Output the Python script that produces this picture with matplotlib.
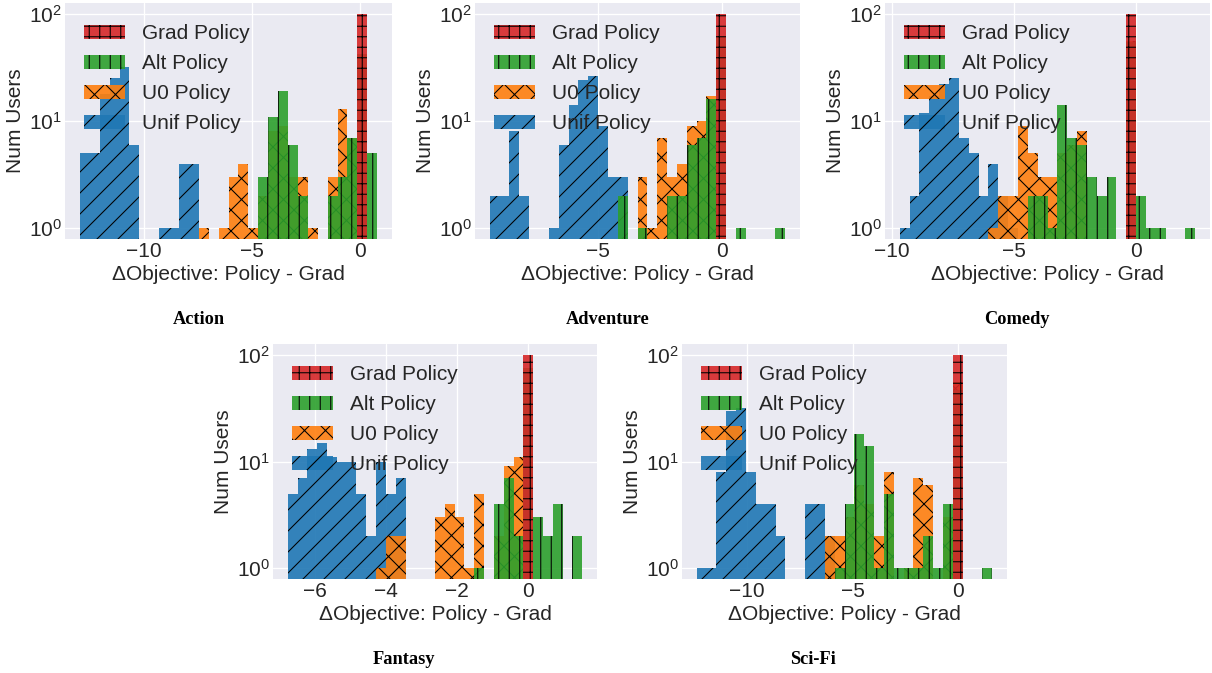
import numpy as np
import matplotlib
matplotlib.use("Agg")
import matplotlib.pyplot as plt

# ---- data: per genre, histogram range and counts per bin (30 bins) ----
genres = ["Action", "Adventure", "Comedy", "Fantasy", "Sci-Fi"]
policies = ["Unif Policy", "U0 Policy", "Alt Policy", "Grad Policy"]

bin_lo = [-12.97, -9.40, -9.67, -6.76, -12.38]
bin_hi = [0.79, 2.58, 2.42, 1.52, 1.60]

action_unif = [5, 5, 18, 25, 32, 6, 0, 0, 1, 1, 4, 4, 0, 0, 0, 0, 0, 0, 0, 0, 0, 0, 0, 0, 0, 0, 0, 0, 0, 0]
action_u0 = [0, 0, 0, 0, 0, 0, 0, 0, 0, 0, 0, 0, 1, 0, 1, 3, 4, 1, 2, 8, 9, 3, 3, 1, 0, 3, 13, 7, 41, 0]
action_alt = [0, 0, 0, 0, 0, 0, 0, 0, 0, 0, 0, 0, 0, 0, 0, 0, 0, 0, 3, 11, 19, 6, 2, 0, 0, 2, 3, 7, 42, 5]
action_grad = [0] * 28 + [100, 0]

adventure_unif = [2, 2, 8, 2, 0, 0, 1, 6, 14, 24, 26, 9, 3, 3, 0, 0, 0, 0, 0, 0, 0, 0, 0, 0, 0, 0, 0, 0, 0, 0]
adventure_u0 = [0, 0, 0, 0, 0, 0, 0, 0, 0, 0, 0, 0, 0, 0, 0, 3, 1, 7, 3, 4, 9, 10, 17, 46, 0, 0, 0, 0, 0, 0]
adventure_alt = [0, 0, 0, 0, 0, 0, 0, 0, 0, 0, 0, 0, 0, 2, 0, 1, 0, 0, 2, 2, 6, 7, 16, 62, 0, 1, 0, 0, 0, 1]
adventure_grad = [0] * 23 + [100] + [0] * 6

comedy_unif = [1, 2, 12, 17, 22, 25, 7, 5, 2, 4, 2, 1, 0, 0, 0, 0, 0, 0, 0, 0, 0, 0, 0, 0, 0, 0, 0, 0, 0, 0]
comedy_u0 = [0, 0, 0, 0, 0, 0, 0, 0, 0, 1, 2, 2, 9, 5, 3, 3, 5, 6, 8, 0, 0, 0, 0, 56, 0, 0, 0, 0, 0, 0]
comedy_alt = [0, 0, 0, 0, 0, 0, 0, 0, 0, 0, 0, 0, 0, 2, 2, 1, 14, 7, 6, 3, 2, 3, 0, 55, 2, 1, 1, 0, 0, 1]
comedy_grad = [0] * 23 + [100] + [0] * 6

fantasy_unif = [5, 7, 13, 15, 11, 10, 10, 5, 2, 10, 5, 7, 0, 0, 0, 0, 0, 0, 0, 0, 0, 0, 0, 0, 0, 0, 0, 0, 0, 0]
fantasy_u0 = [0, 0, 0, 0, 0, 0, 0, 0, 0, 1, 2, 2, 0, 0, 0, 3, 4, 3, 1, 5, 0, 2, 9, 11, 57, 0, 0, 0, 0, 0]
fantasy_alt = [0, 0, 0, 0, 0, 0, 0, 0, 0, 0, 0, 0, 0, 0, 0, 0, 0, 0, 0, 1, 0, 4, 7, 2, 75, 3, 2, 4, 0, 2]
fantasy_grad = [0] * 24 + [100] + [0] * 5

scifi_unif = [1, 1, 8, 30, 32, 8, 4, 4, 2, 0, 0, 4, 4, 2, 0, 0, 0, 0, 0, 0, 0, 0, 0, 0, 0, 0, 0, 0, 0, 0]
scifi_u0 = [0, 0, 0, 0, 0, 0, 0, 0, 0, 0, 0, 0, 0, 2, 2, 3, 6, 4, 2, 8, 0, 1, 7, 6, 0, 3, 56, 0, 0, 0]
scifi_alt = [0, 0, 0, 0, 0, 0, 0, 0, 0, 0, 0, 0, 0, 0, 1, 4, 18, 14, 1, 5, 1, 1, 1, 2, 1, 4, 47, 0, 0, 1]
scifi_grad = [0] * 26 + [100] + [0] * 3

counts = [
    [action_unif, action_u0, action_alt, action_grad],
    [adventure_unif, adventure_u0, adventure_alt, adventure_grad],
    [comedy_unif, comedy_u0, comedy_alt, comedy_grad],
    [fantasy_unif, fantasy_u0, fantasy_alt, fantasy_grad],
    [scifi_unif, scifi_u0, scifi_alt, scifi_grad],
]
xticks = [[-10, -5, 0], [-5, 0], [-10, -5, 0], [-6, -4, -2, 0], [-10, -5, 0]]

# ---- style ----
colors = ["#1f77b4", "#ff7f0e", "#2ca02c", "#d62728"]
hatches = ["/", "x", "|", "+"]

W, H, DPI = 1212, 673, 63
plt.style.use("seaborn-v0_8-darkgrid")
plt.rcParams["font.family"] = ["Liberation Sans", "DejaVu Sans"]
plt.rcParams["hatch.color"] = "black"
plt.rcParams["hatch.linewidth"] = 1.2
plt.rcParams["grid.linewidth"] = 1.5
FS = 23.8

# axes boxes in pixels: left, right, top, bottom
boxes = [(65, 392, 3, 239), (475, 800, 3, 239), (885, 1210, 3, 239),
         (273, 597, 344, 579), (682, 1007, 344, 579)]
captions = [(199, 319), (608, 319), (1017, 319), (404, 659), (813, 659)]

fig = plt.figure(figsize=(W / DPI, H / DPI), dpi=DPI)

for g in range(len(genres)):
    l, r, t, b = boxes[g]
    ax = fig.add_axes([l / W, 1 - b / H, (r - l) / W, (b - t) / H])
    edges = np.linspace(bin_lo[g], bin_hi[g], 31)
    centers = (edges[:-1] + edges[1:]) / 2
    for k in range(4):
        ax.hist(centers, bins=edges, weights=counts[g][k], log=True,
                color=colors[k], alpha=0.9, hatch=hatches[k], label=policies[k])
    ax.set_ylim(10 ** -0.1, 10 ** 2.1)
    ax.set_xticks(xticks[g])
    ax.tick_params(labelsize=FS)
    ax.set_xlabel("ΔObjective: Policy - Grad", fontsize=FS)
    ax.set_ylabel("Num Users", fontsize=FS)
    handles, labels = ax.get_legend_handles_labels()
    ax.legend(handles[::-1], labels[::-1], loc="upper left", fontsize=FS,
              labelspacing=0.53, bbox_to_anchor=(0, 0.99))
    cx, cy = captions[g]
    fig.text(cx / W, 1 - cy / H, genres[g], ha="center", va="center",
             family="Liberation Serif", weight="bold", fontsize=21, color="black")

fig.savefig("out.png", dpi=DPI)
